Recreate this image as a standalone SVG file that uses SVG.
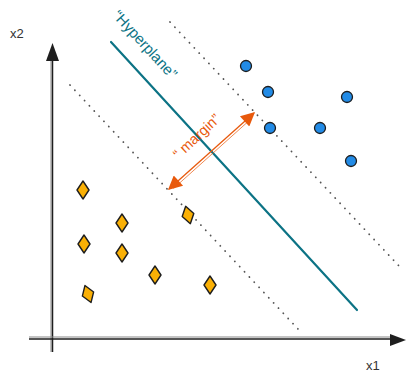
<svg xmlns="http://www.w3.org/2000/svg" width="414" height="384" viewBox="0 0 414 384">
<style>
.lbl{font-family:"Liberation Sans","DejaVu Sans",sans-serif;}
.axis{stroke:#1e1e1e;stroke-width:1.5;fill:none;}
.axis2{stroke:#888;stroke-width:1;fill:none;}
.dot{stroke:#555;stroke-width:1.8;stroke-dasharray:0.1 7;stroke-linecap:round;fill:none;}
.blue{fill:#228be6;stroke:#1e1e1e;stroke-width:1.3;}
.dia{fill:#fab005;stroke:#1e1e1e;stroke-width:1.4;stroke-linejoin:round;}
</style>
<defs>
<marker id="oh" viewBox="0 0 10 10" refX="9" refY="5" markerWidth="17" markerHeight="14" markerUnits="userSpaceOnUse" orient="auto-start-reverse">
<path d="M0,0 L10,5 L0,10 z" fill="#e8590c"/>
</marker>
<path id="d" d="M0,-9 L6,0 L0,9 L-6,0 z"/>
</defs>
<rect width="414" height="384" fill="#fff"/>
<g id="connectors">
<line class="axis2" x1="51" y1="60" x2="51" y2="352"/>
<line class="axis" x1="52.5" y1="352" x2="52.5" y2="58"/>
<path d="M52.5,43 L59,61 L46,61 z" fill="#1e1e1e"/>
<line class="axis2" x1="29" y1="337" x2="392" y2="337"/>
<line class="axis" x1="29" y1="339" x2="392" y2="339"/>
<path d="M406,340 L390,334 L390,346 z" fill="#1e1e1e"/>
<line class="dot" x1="170" y1="22" x2="399" y2="266"/>
<line class="dot" x1="70" y1="85" x2="298" y2="329"/>
<line x1="111" y1="42" x2="357" y2="310" stroke="#0c7385" stroke-width="2.2" stroke-linecap="round"/>
<line x1="169" y1="189" x2="254" y2="113" stroke="#e8590c" stroke-width="1.3" marker-start="url(#oh)" marker-end="url(#oh)"/>
<line x1="172" y1="187" x2="250" y2="117" stroke="#e8590c" stroke-width="1" stroke-opacity="0.7" transform="translate(1.5,1.5)"/>
</g>
<g id="label-x2"><text class="lbl" x="10" y="38" font-size="13" fill="#333">x2</text></g>
<g id="label-x1"><text class="lbl" x="366" y="370" font-size="13" fill="#333">x1</text></g>
<g id="label-hyperplane"><text class="lbl" font-size="15" fill="#0c7385" transform="translate(112,16) rotate(47.5)">“Hyperplane”</text></g>
<g id="label-margin"><text class="lbl" font-size="14.5" fill="#e8590c" text-anchor="middle" transform="translate(200,140) rotate(-43)">“ margin”</text></g>
<g id="class-blue">
<circle id="b1" class="blue" cx="246" cy="66" r="5.5"/>
<circle id="b2" class="blue" cx="268" cy="92" r="5.5"/>
<circle id="b3" class="blue" cx="347" cy="97" r="5.5"/>
<circle id="b4" class="blue" cx="270" cy="128" r="5.5"/>
<circle id="b5" class="blue" cx="320" cy="128" r="5.5"/>
<circle id="b6" class="blue" cx="351" cy="161" r="5.5"/>
</g>
<g id="class-orange">
<use id="o1" href="#d" class="dia" transform="translate(83,190)"/>
<use id="o2" href="#d" class="dia" transform="translate(122,223)"/>
<use id="o3" href="#d" class="dia" transform="translate(188,215) rotate(-15)"/>
<use id="o4" href="#d" class="dia" transform="translate(84,244)"/>
<use id="o5" href="#d" class="dia" transform="translate(122,253)"/>
<use id="o6" href="#d" class="dia" transform="translate(155,275)"/>
<use id="o7" href="#d" class="dia" transform="translate(210,285)"/>
<use id="o8" href="#d" class="dia" transform="translate(88,294) rotate(-20)"/>
</g>
</svg>
